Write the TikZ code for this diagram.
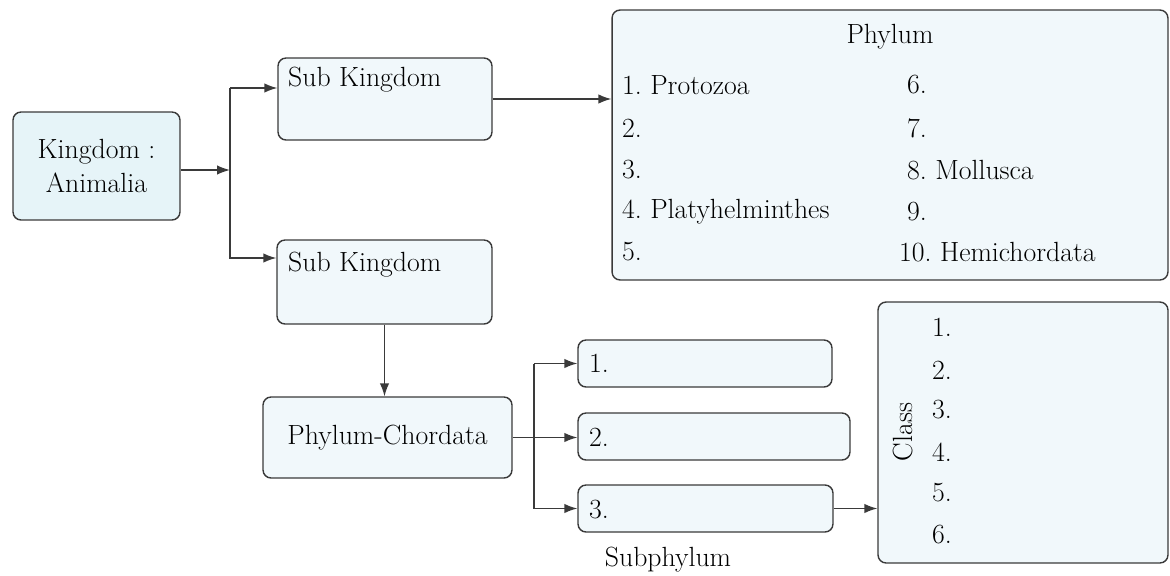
\documentclass[tikz,border=0pt]{standalone}
\usepackage{amsmath,amssymb}
\usepackage{tikz}
\usepackage{xcolor}
\usetikzlibrary{calc,arrows.meta}
\definecolor{boxline}{HTML}{3A3A3A}
\definecolor{boxfill}{HTML}{F1F8FB}
\definecolor{kingfill}{HTML}{E6F4F8}
\frenchspacing

\begin{document}
\begin{tikzpicture}[x=0.02cm,y=-0.02cm,
	every node/.style={font=\fontsize{15.8}{19}\selectfont, text=black},
	box/.style={draw=boxline, line width=0.8pt, rounded corners=0.16cm, fill=boxfill, inner sep=0pt},
	arr/.style={draw=boxline, line width=0.8pt, -{Latex[length=2.6mm,width=1.9mm]}}]
\useasboundingbox (0,0) rectangle (1170,575);

%boxes
\node[box, fill=kingfill, minimum width=3.34cm, minimum height=2.16cm, align=center] (kingdom) at (96.5,166) {Kingdom :\\Animalia};
\node[box, minimum width=4.28cm, minimum height=1.64cm] (sk1) at (385,99) {};
\node[box, minimum width=4.30cm, minimum height=1.68cm] (sk2) at (384.5,282) {};
\node[box, minimum width=11.12cm, minimum height=5.40cm] (phylum) at (890,145) {};
\node[box, minimum width=4.98cm, minimum height=1.62cm] (chordata) at (387.5,437.5) {Phylum-Chordata};
\node[box, minimum width=5.08cm, minimum height=0.94cm] (sub1) at (705,363.5) {};
\node[box, minimum width=5.44cm, minimum height=0.94cm] (sub2) at (714,436.5) {};
\node[box, minimum width=5.10cm, minimum height=0.94cm] (sub3) at (705.5,508.5) {};
\node[box, minimum width=5.80cm, minimum height=5.22cm] (class) at (1023,432.5) {};

%texts
\node[anchor=west] (sk1t) at (282,80) {Sub Kingdom};
\node[anchor=west] (sk2t) at (282,265) {Sub Kingdom};
\node (phyt) at (890,37) {Phylum};
\node[anchor=west] (p1) at (616,85) {1. Protozoa};
\node[anchor=west] (p2) at (616,128) {2.};
\node[anchor=west] (p3) at (616,170) {3.};
\node[anchor=west] (p4) at (616,212) {4. Platyhelminthes};
\node[anchor=west] (p5) at (616,252) {5.};
\node[anchor=west] (p6) at (901,85) {6.};
\node[anchor=west] (p7) at (901,128) {7.};
\node[anchor=west] (p8) at (901,170) {8. Mollusca};
\node[anchor=west] (p9) at (901,212) {9.};
\node[anchor=west] (p10) at (893,252) {10. Hemichordata};
\node[anchor=west] (s1) at (583,363) {1.};
\node[anchor=west] (s2) at (583,437) {2.};
\node[anchor=west] (s3) at (583,510) {3.};
\node (subt) at (668,560) {Subphylum};
\node[rotate=90] (classt) at (903,432) {Class};
\foreach \i/\y in {1/327,2/370,3/410,4/452,5/493,6/535}
	\node[anchor=west] (c\i) at (926,\y) {\i.};

%arrows
\coordinate (ktop) at (230,88);
\coordinate (kmid) at (230,170);
\coordinate (kbot) at (230,258);
\draw[arr] (kingdom.east |- kmid) -- (kmid);
\draw[arr] (ktop) -- (ktop -| sk1.west);
\draw[arr] (ktop) -- (kbot) -- (kbot -| sk2.west);
\draw[arr] (sk1.east) -- (sk1.east -| phylum.west);
\draw[arr] (sk2.south) -- (sk2.south |- chordata.north);
\coordinate (ctop) at (534,363.5);
\coordinate (cbot) at (534,508.5);
\draw[arr] (chordata.east) -- (chordata.east -| sub2.west);
\draw[arr] (ctop) -- (sub1.west);
\draw[arr] (ctop) -- (cbot) -- (sub3.west);
\draw[arr] (sub3.east) -- (sub3.east -| class.west);
\end{tikzpicture}
\end{document}
